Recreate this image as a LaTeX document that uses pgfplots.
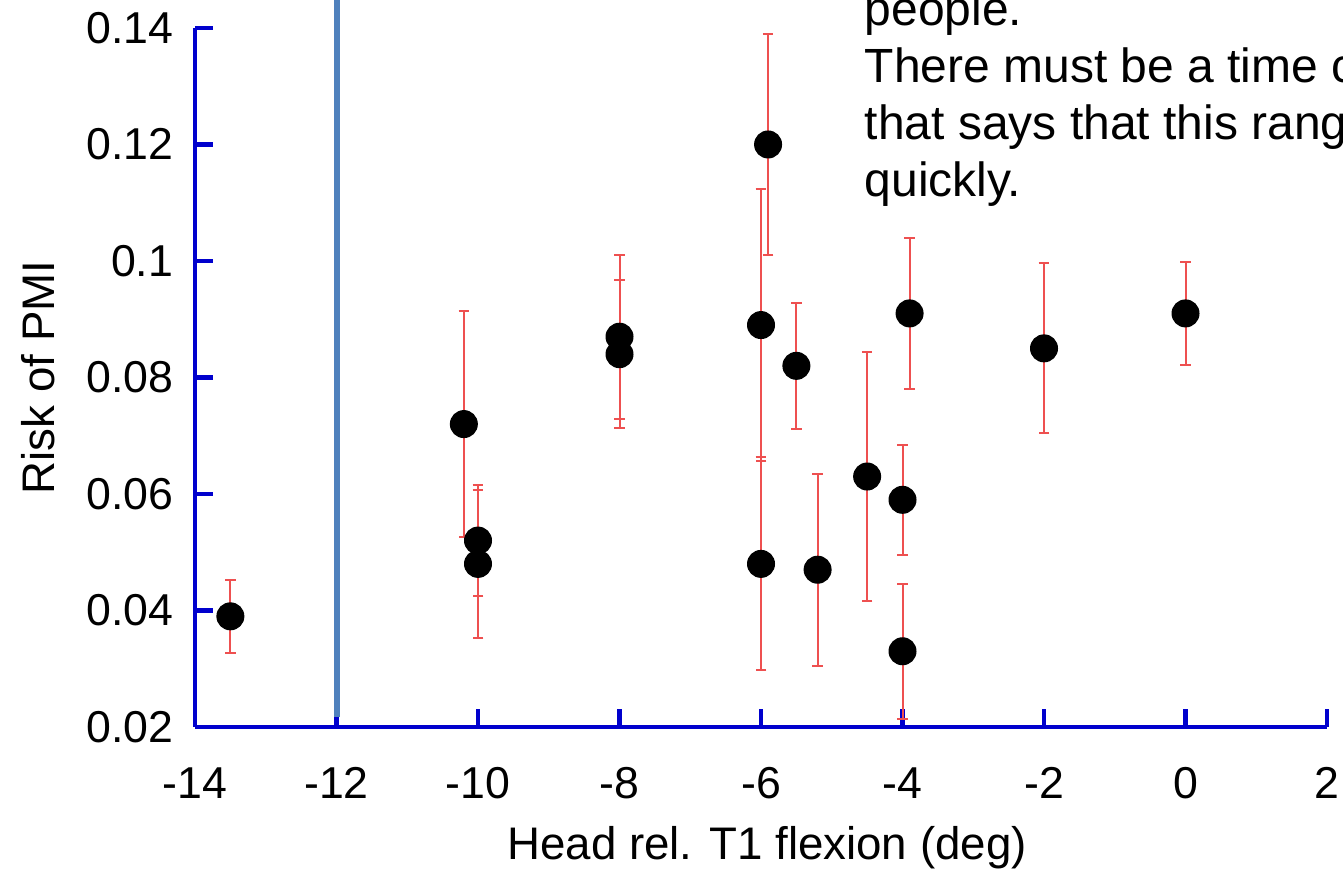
\documentclass[border=0pt]{standalone}
\usepackage{fontspec}
\setmainfont{Liberation Sans}
\usepackage{pgfplots}
\pgfplotsset{compat=1.18}

\definecolor{axblue}{RGB}{0,0,205}
\definecolor{linblue}{RGB}{79,129,189}
\definecolor{errred}{RGB}{238,80,80}

% x, y, symmetric error
\pgfplotstableread{
x     y      e
-13.5 0.039  0.0063
-10.2 0.072  0.0194
-10   0.052  0.0095
-10   0.048  0.0127
-8    0.087  0.0141
-8    0.084  0.0127
-6    0.089  0.0234
-6    0.048  0.0183
-5.9  0.120  0.0190
-5.5  0.082  0.0108
-5.2  0.047  0.0165
-4.5  0.063  0.0214
-4    0.059  0.0094
-4    0.033  0.0116
-3.9  0.091  0.0129
-2    0.085  0.0146
0     0.091  0.0088
}\pmidata

\begin{document}
\begin{tikzpicture}
\useasboundingbox (-58.5pt,-42.9pt) rectangle (344.4pt,218.1pt);
\clip (-58.5pt,-42.9pt) rectangle (344.4pt,218.1pt);
\begin{axis}[
    scale only axis,
    width=339.6pt, height=209.7pt,
    xmin=-14, xmax=2, ymin=0.02, ymax=0.14,
    clip=false,
    axis x line=bottom, axis y line=left,
    axis line style={-, draw=axblue, line width=1.3pt},
    tick style={draw=axblue, line width=1.3pt},
    tick align=inside,
    major tick length=5.5pt,
    xtick={-14,-12,-10,-8,-6,-4,-2,0,2},
    xticklabels={-14,-12,-10,-8,-6,-4,-2,0,2},
    ytick={0.02,0.04,0.06,0.08,0.1,0.12,0.14},
    yticklabels={0.02,0.04,0.06,0.08,0.1,0.12,0.14},
    tick label style={font=\fontsize{13.4}{16}\selectfont},
    xticklabel style={yshift=-8.7pt},
    yticklabel style={xshift=-3pt},
    every axis x label/.style={at={(axis description cs:0.5053,-0.126)}, anchor=north,
        font=\fontsize{13.7}{16}\selectfont},
    every axis y label/.style={at={(axis description cs:-0.1131,0.5)}, rotate=90, anchor=south,
        font=\fontsize{13.7}{16}\selectfont},
    xlabel={Head rel. T1 flexion (deg)},
    ylabel={Risk of PMI},
]
\addplot[linblue, line width=1.8pt, forget plot] coordinates {(-12,0.0217) (-12,0.16)};
\addplot[only marks, mark=*, mark size=4pt, black,
    error bars/.cd, y dir=both, y explicit,
    error mark=-,
    error bar style={draw=errred, line width=0.6pt},
    error mark options={rotate=90, mark size=1.6pt, draw=errred, line width=0.6pt}]
    table[x=x, y=y, y error=e] {\pmidata};
\begin{scope}[font=\fontsize{14.4}{17}\selectfont]
\node[anchor=base west, inner sep=0pt] at (axis cs:-4.544,0.14034) {people.};
\node[anchor=base west, inner sep=0pt] at (axis cs:-4.544,0.13056) {There must be a time c};
\node[anchor=base west, inner sep=0pt] at (axis cs:-4.544,0.12077) {that says that this rang};
\node[anchor=base west, inner sep=0pt] at (axis cs:-4.544,0.11099) {quickly.};
\end{scope}
\end{axis}
\end{tikzpicture}
\end{document}
